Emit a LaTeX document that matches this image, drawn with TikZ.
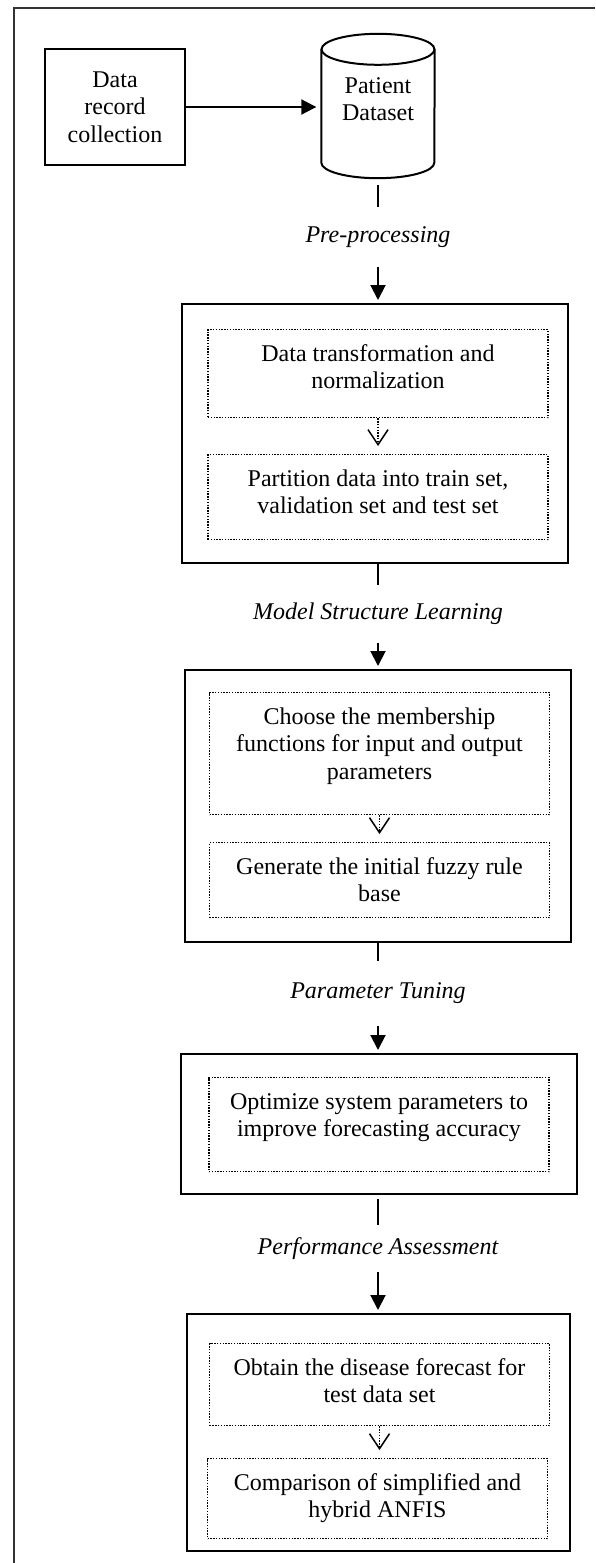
\documentclass[tikz,border=0pt]{standalone}
\usepackage{fontspec}
\setmainfont{Liberation Serif}
\usetikzlibrary{arrows.meta}

\newcommand{\stepbody}[2]{\parbox[c][#1][t]{340pt}{\centering\rule{0pt}{31.5pt}#2}}

\begin{document}
\begin{tikzpicture}[x=1pt,y=-1pt,font=\fontsize{24}{27.5}\selectfont,
  outbox/.style={draw,line width=2pt,inner sep=0pt},
  stepbox/.style={draw,dash pattern=on 1.4pt off 1.4pt,line width=1.4pt,inner sep=0pt,anchor=north},
  phase/.style={font=\fontsize{24}{27.5}\selectfont\itshape,minimum height=#1},
  stem/.style={line width=2pt},
  arr/.style={line width=2pt,shorten >=3pt,-{Triangle[length=15pt,width=15pt]}},
  darr/.style={dash pattern=on 1.4pt off 1.4pt,line width=1.4pt,shorten >=8pt,-{Straight Barb[length=15pt,width=20pt,line width=1.5pt]}}]
\useasboundingbox (0,0) rectangle (595,1563);
\draw[line width=2pt,color=black!80] (595,8) -- (14,8) -- (14,1563);

\node[outbox,minimum width=140pt,minimum height=115pt,align=center] (drc) at (115,107) {Data\\record\\collection};
\node[minimum width=113pt,minimum height=144pt,inner sep=0pt,text depth=14pt,align=center] (pd) at (378,106) {Patient\\Dataset};
% cylinder
\draw[line width=2pt] ([yshift=-15.5pt]pd.north) ellipse [x radius=56.5pt,y radius=15.5pt];
\draw[line width=2pt] ([yshift=-15.5pt]pd.north west) -- ([yshift=15.5pt]pd.south west)
  arc[start angle=180,end angle=360,x radius=56.5pt,y radius=15.5pt] -- ([yshift=-15.5pt]pd.north east);
\draw[arr,shorten >=5pt] (drc) -- (drc -| pd.west);

% phases
\node[phase=60pt] (pre) at (378,237) {Pre-processing};
\node[phase=58pt] (msl) at (378,614) {Model Structure Learning};
\node[phase=65pt] (pt) at (378,993.5) {Parameter Tuning};
\node[phase=47pt] (pa) at (378,1248.5) {Performance Assessment};

% outer boxes
\node[outbox,minimum width=386pt,minimum height=259pt] (b1) at (375,433.5) {};
\node[outbox,minimum width=386pt,minimum height=272pt] (b2) at (378,806) {};
\node[outbox,minimum width=396pt,minimum height=140pt] (b3) at (379,1124) {};
\node[outbox,minimum width=383pt,minimum height=237pt] (b4) at (378.5,1432.5) {};

% steps
\node[stepbox] (s1a) at (378,329) {\stepbody{88pt}{Data transformation and\\normalization}};
\node[stepbox] (s1b) at (378,454) {\stepbody{85pt}{Partition data into train set,\\validation set and test set}};
\node[stepbox] (s2a) at (379.5,692) {\stepbody{122pt}{Choose the membership\\functions for input and output\\parameters}};
\node[stepbox] (s2b) at (379.5,842) {\stepbody{75pt}{Generate the initial fuzzy rule\\base}};
\node[stepbox] (s3) at (379,1077) {\stepbody{94pt}{Optimize system parameters to\\improve forecasting accuracy}};
\node[stepbox] (s4a) at (379.5,1343) {\stepbody{82pt}{Obtain the disease forecast for\\test data set}};
\node[stepbox] (s4b) at (377.5,1458) {\stepbody{80pt}{Comparison of simplified and\\hybrid ANFIS}};

\draw[darr] (s1a) -- (s1b);
\draw[darr] (s2a) -- (s2b);
\draw[darr] (s4a.south) -- (s4a.south |- s4b.north);

% connectors
\draw[stem,shorten <=7pt] (pd.south) -- (pre);
\draw[arr] (pre) -- (pre |- b1.north);
\draw[stem] (msl |- b1.south) -- (msl);
\draw[arr] (msl) -- (msl |- b2.north);
\draw[stem] (pt |- b2.south) -- (pt);
\draw[arr] (pt) -- (pt |- b3.north);
\draw[stem,shorten <=4pt] (pa |- b3.south) -- (pa);
\draw[arr] (pa) -- (pa |- b4.north);
\end{tikzpicture}
\end{document}
